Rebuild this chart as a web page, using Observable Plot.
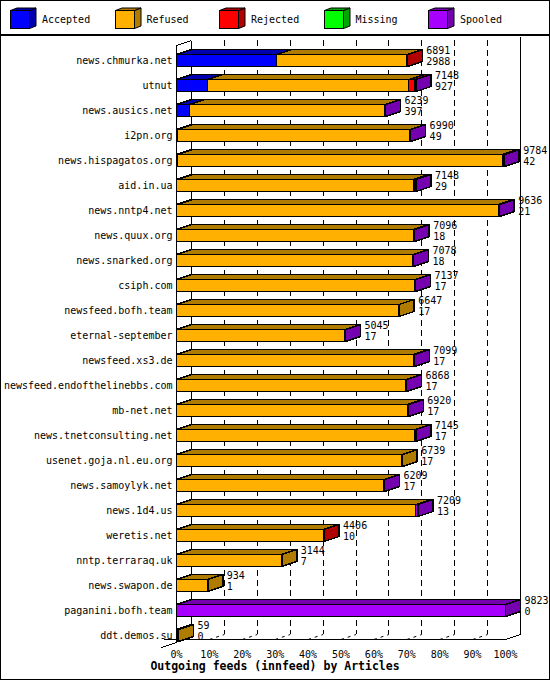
<!DOCTYPE html>
<html><head><meta charset="utf-8">
<script src="https://cdn.jsdelivr.net/npm/d3@7"></script>
<script src="https://cdn.jsdelivr.net/npm/@observablehq/plot@0.6"></script>
<style>
body{margin:0;background:#fff;font-family:"DejaVu Sans Mono",monospace;}
#frame{position:absolute;left:0;top:0;width:550px;height:680px;box-sizing:border-box;border:1px solid #000;}
#sep{position:absolute;left:0;top:34px;width:550px;height:2px;background:#000;}
#chart{position:absolute;left:1px;top:36px;}
#title{position:absolute;left:0;top:659px;width:550px;height:14px;line-height:14px;text-align:center;font:bold 11.5px "DejaVu Sans Mono",monospace;color:#000;}
.li{position:absolute;top:6px;height:24px;}
.li span{position:absolute;left:32px;top:7px;line-height:14px;font-size:10px;white-space:nowrap;}
.li svg{position:absolute;left:0;top:0;}
</style></head>
<body>
<div id="frame"></div>
<div id="legend"></div>
<div id="sep"></div>
<div id="chart"></div>
<div id="title">Outgoing feeds (innfeed) by Articles</div>
<script>
const hosts = ["news.chmurka.net","utnut","news.ausics.net","i2pn.org","news.hispagatos.org","aid.in.ua","news.nntp4.net","news.quux.org","news.snarked.org","csiph.com","newsfeed.bofh.team","eternal-september","newsfeed.xs3.de","newsfeed.endofthelinebbs.com","mb-net.net","news.tnetconsulting.net","usenet.goja.nl.eu.org","news.samoylyk.net","news.1d4.us","weretis.net","nntp.terraraq.uk","news.swapon.de","paganini.bofh.team","ddt.demos.su"];
const totals   = [6891,7148,6239,6990,9784,7148,9636,7096,7078,7137,6647,5045,7099,6868,6920,7145,6739,6209,7209,4406,3144,934,9823,59];
const accepted = [2988,927,397,49,42,29,21,18,18,17,17,17,17,17,17,17,17,17,13,10,7,1,0,0];
const refused  = [3895,6021,5827,6921,9702,7054,9595,7063,7045,7105,6630,5013,7067,6836,6888,7113,6722,6177,7136,4388,3137,933,0,59];
const rejected = [8,180,0,0,0,50,0,0,0,0,0,0,0,0,0,0,0,0,0,8,0,0,0,0];
const missing  = [0,0,0,0,0,0,0,0,0,0,0,0,0,0,0,0,0,0,0,0,0,0,0,0];
const spooled  = [0,20,15,20,40,15,20,15,15,15,0,15,15,15,15,15,0,15,60,0,0,0,9823,0];
const categories = ["Accepted","Refused","Rejected","Missing","Spooled"];
const frontColors = ["#0000ff","#ffb000","#ff0000","#00ff00","#a800ff"];
const darkColors  = ["#0000b0","#b07c00","#b00000","#00a800","#7400b0"];
const tickLabels = ["0%","10%","20%","30%","40%","50%","60%","70%","80%","90%","100%"];

// legend
const leg = d3.select("#legend");
categories.forEach((c,k)=>{
  const it = leg.append("div").attr("class","li").style("left",(10+104.5*k)+"px");
  const s = it.append("svg").attr("width",30).attr("height",24);
  s.append("rect").attr("x",0.5).attr("y",4.5).attr("width",19).attr("height",18)
    .attr("fill",frontColors[k]).attr("stroke","#000");
  s.append("path").attr("d","M19.5,4.5L19.5,22.5L26,20L26,2L19.5,4.5Z").attr("fill",darkColors[k]).attr("stroke","#000");
  s.append("path").attr("d","M0.5,4.5L19.5,4.5L26,2L7,2Z").attr("fill",darkColors[k]).attr("stroke","#000");
  it.append("span").text(c);
});

// geometry
const n = hosts.length;
const series = [accepted, refused, rejected, missing, spooled];
const XMAX = d3.max(totals);
const X0 = 175, X1 = 504, ROW0 = 18, STEP = 25;
const K = XMAX/(X1-X0);
const DX = 15*K, DY = 5/STEP, H = 12/STEP;
const yFront = 23.4, yBack = yFront - DY;
const tickVals = tickLabels.map((t,i)=>XMAX*i/10);

const segs = [];
const sides = [];
hosts.forEach((h,i)=>{
  let s = 0, lastC = -1;
  series.forEach((arr,c)=>{
    const v = arr[i];
    if (v>0){ segs.push({i,c,x1:s,x2:s+v}); lastC = c; }
    s += v;
  });
  sides.push({i,c:lastC,x:s});
});
const topPts = [];
segs.forEach((s,j)=>{
  [[s.x1,s.i],[s.x2,s.i],[s.x2+DX,s.i-DY],[s.x1+DX,s.i-DY],[s.x1,s.i]]
    .forEach(([x,y])=>topPts.push({id:"t"+j,c:s.c,x,y}));
});
const sidePts = [];
sides.forEach((s,j)=>{
  [[s.x,s.i],[s.x,s.i+H],[s.x+DX,s.i+H-DY],[s.x+DX,s.i-DY],[s.x,s.i]]
    .forEach(([x,y])=>sidePts.push({id:"s"+j,c:s.c,x,y}));
});

const gridVals = tickVals.slice(1,10);
const walls = [
  {x1:0,y1:-0.36,x2:0,y2:yFront+0.12},
  {x1:0,y1:yFront+0.12,x2:-DX,y2:yFront+0.32},
  {x1:DX,y1:-0.56,x2:DX,y2:yBack},
  {x1:0,y1:-0.36,x2:DX,y2:-0.56},
  {x1:XMAX+DX,y1:-0.72,x2:XMAX+DX,y2:yBack},
  {x1:XMAX,y1:yFront,x2:XMAX+DX,y2:yBack},
  {x1:-13*K,y1:yFront,x2:XMAX,y2:yFront}
];

const marks = [
  Plot.ruleX(gridVals,{x:d=>d+DX,y1:-0.56,y2:yBack,stroke:"#000",strokeDasharray:"6,4",shapeRendering:"crispEdges"}),
  Plot.link(gridVals,{x1:d=>d,y1:yFront,x2:d=>d+DX,y2:yBack,stroke:"#000",strokeDasharray:"3,4"}),
  Plot.link(walls,{x1:"x1",y1:"y1",x2:"x2",y2:"y2",stroke:"#000",shapeRendering:"crispEdges"})
];
categories.forEach((c,k)=>{
  marks.push(Plot.rect(segs.filter(s=>s.c===k),{x1:"x1",x2:"x2",y1:d=>d.i,y2:d=>d.i+H,fill:frontColors[k],stroke:"#000",shapeRendering:"crispEdges"}));
  marks.push(Plot.line(topPts.filter(p=>p.c===k),{x:"x",y:"y",z:"id",fill:darkColors[k],stroke:"#000",curve:"linear",shapeRendering:"crispEdges"}));
  marks.push(Plot.line(sidePts.filter(p=>p.c===k),{x:"x",y:"y",z:"id",fill:darkColors[k],stroke:"#000",curve:"linear",shapeRendering:"crispEdges"}));
});
marks.push(Plot.text(hosts,{x:()=>0,y:(d,i)=>i,text:d=>d,textAnchor:"end",dx:-4,dy:6,fill:"#000"}));
marks.push(Plot.text(totals,{x:d=>d,y:(d,i)=>i,text:d=>String(d),textAnchor:"start",dx:19,dy:-4,fill:"#000"}));
marks.push(Plot.text(accepted,{x:(d,i)=>totals[i],y:(d,i)=>i,text:d=>String(d),textAnchor:"start",dx:19,dy:7,fill:"#000"}));

const chart = Plot.plot({
  width:548, height:624,
  marginLeft:X0, marginRight:548-X1, marginTop:0, marginBottom:20,
  style:{fontFamily:"'DejaVu Sans Mono', monospace", fontSize:"10px", background:"transparent", color:"#000"},
  x:{domain:[0,XMAX], range:[X0,X1], ticks:tickVals, tickFormat:d=>tickLabels[Math.round(d/XMAX*10)], tickSize:0, tickPadding:10, label:null},
  y:{domain:[0,n-1], range:[ROW0, ROW0+STEP*(n-1)], axis:null},
  marks
});
document.getElementById("chart").appendChild(chart);
</script>
</body></html>
